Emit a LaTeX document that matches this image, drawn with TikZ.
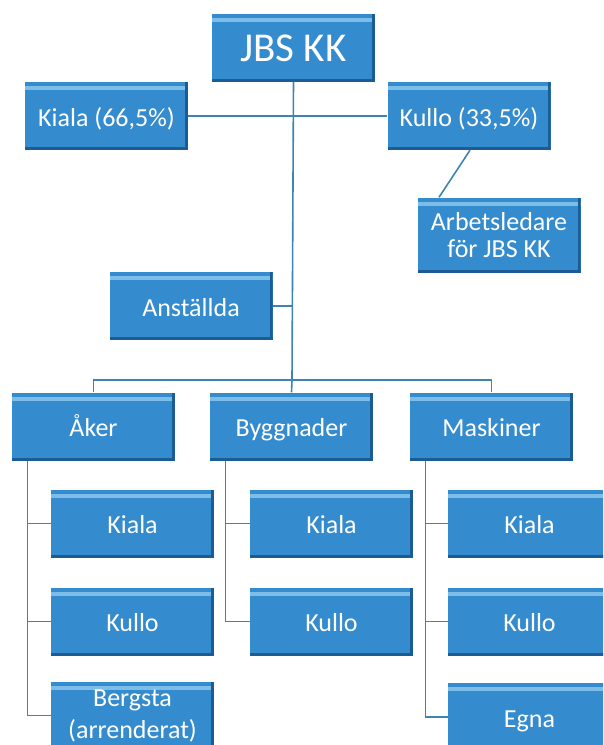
\documentclass[tikz,border=0pt]{standalone}
\usepackage{fontspec}
\setmainfont{Carlito}
\usepackage{xcolor}
\usepackage{tikz}

\definecolor{boxblue}{RGB}{52,139,205}
\definecolor{boxlight}{RGB}{125,190,232}
\definecolor{boxdark}{RGB}{28,92,148}
\definecolor{linkblue}{RGB}{62,132,178}

\tikzset{
  orgbox/.style={rectangle,fill=boxblue,text=white,minimum width=163pt,minimum height=68pt,
    inner sep=2pt,align=center,font=\fontsize{26}{28}\selectfont,
    path picture={
      \fill[boxlight] ([yshift=-4pt]path picture bounding box.north west) rectangle ([yshift=-8pt]path picture bounding box.north east);
      \fill[boxdark] (path picture bounding box.south west) rectangle ([yshift=3pt]path picture bounding box.south east);
      \fill[boxdark] (path picture bounding box.north east) rectangle ([xshift=-3pt]path picture bounding box.south east);
    }},
  oneline/.style={text height=23pt,text depth=3pt},
  link/.style={draw=linkblue,line width=1.6pt}
}

\begin{document}
\begin{tikzpicture}[x=1pt,y=-1pt]
\useasboundingbox (0,0) rectangle (603,745);
\clip (0,0) rectangle (603,745);
% top
\node[orgbox,text height=31pt,text depth=3pt,font=\fontsize{41}{44}\selectfont] (jbs) at (293.5,47.5) {JBS KK};
\node[orgbox,oneline] (kiala) at (106.5,116) {Kiala (66,5\%)};
\node[orgbox,oneline] (kullo) at (469,116) {Kullo (33,5\%)};
\node[orgbox,minimum height=75pt,font=\fontsize{26}{27}\selectfont] (arbl) at (499,235) {Arbetsledare\\för JBS KK};
\node[orgbox,oneline] (anst) at (191,306) {Anställda};
% second level
\node[orgbox,oneline] (aker) at (93.5,426.5) {Åker};
\node[orgbox,oneline] (bygg) at (291.5,426.5) {Byggnader};
\node[orgbox,oneline] (mask) at (491.5,426.5) {Maskiner};
% third level
\node[orgbox,oneline] (akKiala) at (132.5,523.5) {Kiala};
\node[orgbox,oneline] (akKullo) at (132.5,621.5) {Kullo};
\node[orgbox,font=\fontsize{26}{32}\selectfont] (akBerg) at (132.5,715.5) {Bergsta\\(arrenderat)};
\node[orgbox,oneline] (byKiala) at (331.5,523.5) {Kiala};
\node[orgbox,oneline] (byKullo) at (331.5,621.5) {Kullo};
\node[orgbox,oneline] (maKiala) at (529.5,523.5) {Kiala};
\node[orgbox,oneline] (maKullo) at (529.5,621.5) {Kullo};
\node[orgbox,oneline] (maEgna) at (529.5,717) {Egna};

\coordinate (bus) at (292,380);
\draw[link] (jbs.south) -- (bus);
\draw[link] (kiala.east) -- (kullo.west);
\draw[link] (anst.east) -- (anst.east -| bus);
\draw[link] ([xshift=1pt]kullo.south) -- ([xshift=-60pt]arbl.north);
\draw[link] (aker.north) |- (bus) -| (mask.north);
\draw[link] (bus) -- (bygg.north);
\draw[link] ([xshift=-66pt]aker.south) |- (akBerg.west);
\draw[link] ([xshift=-66pt]aker.south) |- (akKiala.west);
\draw[link] ([xshift=-66pt]aker.south) |- (akKullo.west);
\draw[link] ([xshift=-66pt]bygg.south) |- (byKiala.west);
\draw[link] ([xshift=-66pt]bygg.south) |- (byKullo.west);
\draw[link] ([xshift=-66pt]mask.south) |- (maKiala.west);
\draw[link] ([xshift=-66pt]mask.south) |- (maKullo.west);
\draw[link] ([xshift=-66pt]mask.south) |- (maEgna.west);
\end{tikzpicture}
\end{document}
